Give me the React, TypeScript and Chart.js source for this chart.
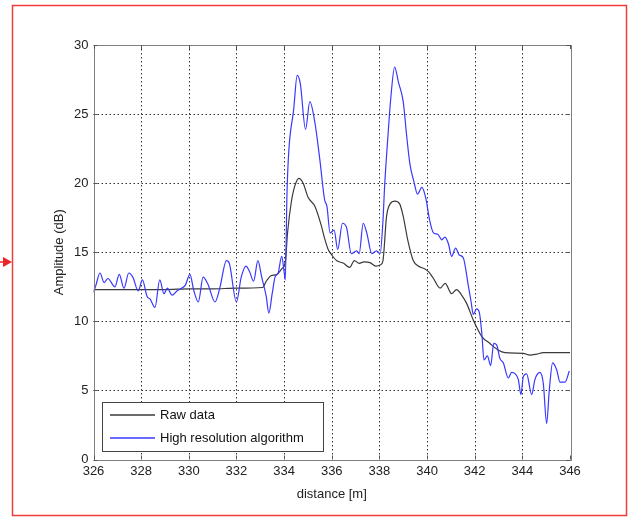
import { useEffect, useRef } from "react";
import { Chart, registerables } from "chart.js";

Chart.register(...registerables);

// ---- data ----
const xTicks = [326, 328, 330, 332, 334, 336, 338, 340, 342, 344, 346];
const yTicks = [0, 5, 10, 15, 20, 25, 30];
const seriesLabels = ["Raw data", "High resolution algorithm"];
const xTitle = "distance [m]";
const yTitle = "Amplitude (dB)";

const rawX = [
  326, 327, 328, 329, 330, 331, 332, 333.1, 333.25, 333.45, 333.7, 333.9, 334.05, 334.15, 334.3,
  334.45, 334.62, 334.8, 335.0, 335.3, 335.55, 335.7, 335.85, 336.0, 336.2, 336.5, 336.75, 336.95,
  337.15, 337.35, 337.6, 337.85, 338.05, 338.15, 338.3, 338.45, 338.65, 338.85, 339.0, 339.2,
  339.42, 339.63, 339.9, 340.06, 340.27, 340.55, 340.76, 341.03, 341.24, 341.45, 341.66, 341.94,
  342.3, 342.64, 343.0, 343.27, 344.04, 344.32, 344.6, 344.88, 346,
];
const rawY = [
  12.3, 12.3, 12.3, 12.3, 12.35, 12.35, 12.4, 12.45, 12.9, 13.3, 13.4, 13.8, 14.3, 16.5, 18.6,
  19.8, 20.35, 20.0, 19.0, 18.3, 17.0, 16.0, 15.2, 14.8, 14.4, 14.2, 13.9, 14.4,
  14.2, 14.3, 14.25, 14.0, 14.1, 14.4, 17.6, 18.5, 18.7, 18.5, 17.6, 15.8,
  14.4, 14.0, 13.8, 13.6, 13.1, 12.4, 12.75, 12.0, 12.3, 11.9, 11.3, 10.1,
  8.9, 8.4, 7.9, 7.73, 7.68, 7.56, 7.63, 7.73, 7.73,
];

const hiX = [
  326.0, 326.1, 326.27, 326.45, 326.6, 326.9, 327.08, 327.28, 327.48, 327.65, 327.88, 328.05,
  328.25, 328.38, 328.58, 328.78, 328.96, 329.1, 329.3, 329.5, 329.7, 329.85, 330.05, 330.2,
  330.4, 330.6, 330.8, 331.1, 331.3, 331.58, 331.7, 332.0, 332.2, 332.4, 332.55, 332.72, 332.9,
  333.06, 333.25, 333.36, 333.5, 333.62, 333.75, 333.9, 334.0, 334.05, 334.12, 334.2, 334.4,
  334.55, 334.68, 334.9, 335.08, 335.3, 335.5, 335.7, 335.8, 335.93, 336.1, 336.25, 336.45,
  336.62, 336.82, 337.05, 337.15, 337.32, 337.47, 337.68, 337.88, 338.03, 338.15, 338.22,
  338.35, 338.48, 338.64, 338.8, 339.0, 339.14, 339.28, 339.45, 339.6, 339.78, 339.95, 340.1,
  340.27, 340.45, 340.62, 340.75, 340.9, 341.03, 341.2, 341.35, 341.52, 341.73, 341.85, 341.94,
  342.08, 342.2, 342.3, 342.39, 342.53, 342.67, 342.8, 342.92, 343.06, 343.2, 343.41, 343.55,
  343.7, 343.83, 343.94, 344.04, 344.18, 344.39, 344.53, 344.74, 344.88, 345.02, 345.13,
  345.27, 345.44, 345.58, 345.79, 345.97,
];
const hiY = [
  12.1, 12.6, 13.5, 12.8, 13.1, 12.5, 13.4, 12.4, 13.5, 13.2, 12.2, 13.0,
  11.8, 11.6, 11.0, 13.0, 12.0, 12.4, 11.9, 12.2, 12.4, 12.6, 13.4, 12.3,
  11.4, 13.2, 12.7, 11.4, 12.4, 14.4, 14.2, 11.4, 13.2, 14.0, 13.6, 12.9, 14.4,
  13.2, 11.8, 10.6, 12.0, 13.2, 13.5, 14.7, 13.6, 13.0, 19.2, 22.4, 25.3,
  27.8, 27.2, 23.9, 25.9, 24.3, 21.7, 18.8, 18.3, 16.4, 16.6, 15.2, 17.1,
  16.8, 14.9, 15.1, 14.9, 17.1, 16.4, 14.9, 15.1, 14.9, 17.3, 19.8,
  23.2, 26.2, 28.4, 27.3, 25.9, 23.5, 21.4, 20.1, 19.2, 19.7, 18.9, 17.4,
  16.4, 16.3, 15.9, 16.1, 15.6, 14.7, 15.3, 14.8, 14.6, 12.6, 11.4, 10.5,
  10.9, 10.6, 9.1, 7.2, 7.5, 6.8, 8.4, 8.3, 7.3, 7.0, 5.9, 6.3,
  6.2, 5.8, 4.7, 6.0, 6.2, 4.7, 5.8, 6.3, 5.5, 2.6, 5.0,
  7.0, 6.5, 5.6, 5.6, 6.4,
];

const FONT = '"Liberation Sans", Arial, Helvetica, sans-serif';

const decorPlugin = {
  id: "decor",
  beforeDatasetsDraw(chart: any) {
    const { ctx, chartArea: a, scales } = chart;
    ctx.save();
    ctx.beginPath();
    ctx.rect(a.left, a.top, a.right - a.left, a.bottom - a.top);
    ctx.clip();
    ctx.strokeStyle = "#333";
    ctx.lineWidth = 1;
    ctx.setLineDash([1.5, 2.5]);
    xTicks.slice(1, -1).forEach((v) => {
      const px = Math.round(scales.x.getPixelForValue(v)) + 0.5;
      ctx.beginPath();
      ctx.moveTo(px, a.top);
      ctx.lineTo(px, a.bottom);
      ctx.stroke();
    });
    yTicks.slice(1, -1).forEach((v) => {
      const py = Math.round(scales.y.getPixelForValue(v)) + 0.5;
      ctx.beginPath();
      ctx.moveTo(a.left, py);
      ctx.lineTo(a.right, py);
      ctx.stroke();
    });
    ctx.restore();
  },
  afterDraw(chart: any) {
    const { ctx, chartArea: a, scales } = chart;
    ctx.save();
    // legend box
    const lx = 102.5, ly = 402.5, lw = 221, lh = 49;
    ctx.fillStyle = "#fff";
    ctx.fillRect(lx, ly, lw, lh);
    ctx.strokeStyle = "#444";
    ctx.lineWidth = 1;
    ctx.strokeRect(lx, ly, lw, lh);
    const ds = chart.data.datasets;
    const rows = [415, 438];
    ds.forEach((d: any, i: number) => {
      ctx.strokeStyle = d.borderColor;
      ctx.lineWidth = 1.3;
      ctx.beginPath();
      ctx.moveTo(110, rows[i]);
      ctx.lineTo(155, rows[i]);
      ctx.stroke();
      ctx.fillStyle = "#111";
      ctx.font = `13px ${FONT}`;
      ctx.textBaseline = "middle";
      ctx.textAlign = "left";
      ctx.fillText(d.label, 160, rows[i] + 0.5);
    });
    // axes box
    ctx.strokeStyle = "#808080";
    ctx.lineWidth = 1;
    ctx.strokeRect(Math.round(a.left) + 0.5, Math.round(a.top) + 0.5, Math.round(a.right - a.left), Math.round(a.bottom - a.top));
    // inward tick marks
    ctx.strokeStyle = "#555";
    xTicks.forEach((v) => {
      const px = Math.round(scales.x.getPixelForValue(v)) + 0.5;
      ctx.beginPath();
      ctx.moveTo(px, a.bottom);
      ctx.lineTo(px, a.bottom - 4);
      ctx.moveTo(px, a.top);
      ctx.lineTo(px, a.top + 4);
      ctx.stroke();
    });
    yTicks.forEach((v) => {
      const py = Math.round(scales.y.getPixelForValue(v)) + 0.5;
      ctx.beginPath();
      ctx.moveTo(a.left, py);
      ctx.lineTo(a.left + 4, py);
      ctx.moveTo(a.right, py);
      ctx.lineTo(a.right - 4, py);
      ctx.stroke();
    });
    // red frame
    ctx.strokeStyle = "#f03c3c";
    ctx.lineWidth = 1.5;
    ctx.strokeRect(12.5, 5.5, 614, 510);
    // red arrow
    ctx.fillStyle = "#e8262a";
    ctx.beginPath();
    ctx.moveTo(3, 257);
    ctx.lineTo(12, 262);
    ctx.lineTo(3, 267);
    ctx.closePath();
    ctx.fill();
    ctx.strokeStyle = "#e8262a";
    ctx.lineWidth = 1.5;
    ctx.beginPath();
    ctx.moveTo(0, 262);
    ctx.lineTo(5, 262);
    ctx.stroke();
    ctx.restore();
  },
};

export default function App() {
  const ref = useRef<HTMLCanvasElement | null>(null);

  useEffect(() => {
    if (!ref.current) return;
    const chart = new Chart(ref.current, {
      type: "line",
      data: {
        datasets: [
          {
            label: seriesLabels[0],
            data: rawX.map((x, i) => ({ x, y: rawY[i] })),
            borderColor: "#3a3a3a",
            borderWidth: 1.2,
            pointRadius: 0,
            cubicInterpolationMode: "monotone",
            order: 1,
          },
          {
            label: seriesLabels[1],
            data: hiX.map((x, i) => ({ x, y: hiY[i] })),
            borderColor: "#3838ff",
            borderWidth: 1.2,
            pointRadius: 0,
            cubicInterpolationMode: "monotone",
            order: 0,
          },
        ],
      },
      options: {
        responsive: false,
        animation: false,
        events: [],
        layout: { padding: { left: 0, top: 45, right: 65, bottom: 0 } },
        plugins: { legend: { display: false }, tooltip: { enabled: false } },
        scales: {
          x: {
            type: "linear",
            min: 326,
            max: 346,
            afterBuildTicks: (s: any) => {
              s.ticks = xTicks.map((v) => ({ value: v }));
            },
            afterFit: (s: any) => {
              s.height = 58.5;
            },
            grid: { display: false, drawTicks: false },
            border: { display: false },
            ticks: {
              color: "#222",
              font: { family: FONT, size: 13 },
              padding: 4,
              maxRotation: 0,
              autoSkip: false,
              callback: (v: any) => String(v),
            },
            title: {
              display: true,
              text: xTitle,
              color: "#222",
              font: { family: FONT, size: 13 },
              padding: { top: 0, bottom: 16 },
            },
          },
          y: {
            type: "linear",
            min: 0,
            max: 30,
            afterBuildTicks: (s: any) => {
              s.ticks = yTicks.map((v) => ({ value: v }));
            },
            afterFit: (s: any) => {
              s.width = 93.5;
            },
            grid: { display: false, drawTicks: false },
            border: { display: false },
            ticks: {
              color: "#222",
              font: { family: FONT, size: 13 },
              padding: 5,
              autoSkip: false,
              callback: (v: any) => String(v),
            },
            title: {
              display: true,
              text: yTitle,
              color: "#222",
              font: { family: FONT, size: 13 },
              padding: { top: 52, bottom: 0 },
            },
          },
        },
      },
      plugins: [decorPlugin],
    });
    return () => chart.destroy();
  }, []);

  return (
    <div style={{ position: "absolute", left: 0, top: 0, width: 635, height: 518, background: "#fff" }}>
      <canvas ref={ref} width={635} height={518} style={{ display: "block" }} />
    </div>
  );
}
